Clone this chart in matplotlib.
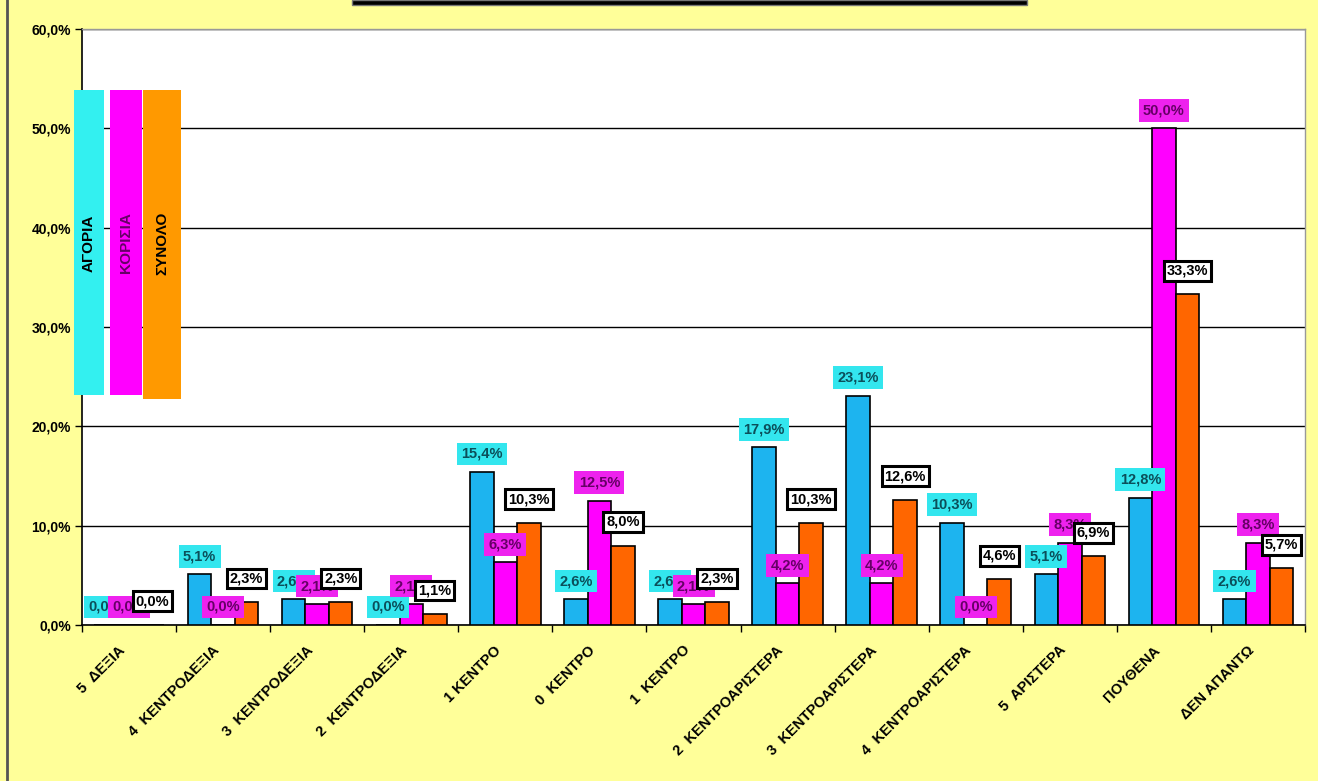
import numpy as np
import matplotlib
matplotlib.use("Agg")
import matplotlib.pyplot as plt
import matplotlib.transforms as mtransforms
from matplotlib.patches import Rectangle
from matplotlib.lines import Line2D

plt.rcParams['font.family'] = ['Liberation Sans', 'DejaVu Sans']

# data (percent)
categories = ["5  ΔΕΞΙΑ", "4  ΚΕΝΤΡΟΔΕΞΙΑ", "3  ΚΕΝΤΡΟΔΕΞΙΑ", "2  ΚΕΝΤΡΟΔΕΞΙΑ",
              "1 ΚΕΝΤΡΟ", "0  ΚΕΝΤΡΟ", "1  ΚΕΝΤΡΟ", "2  ΚΕΝΤΡΟΑΡΙΣΤΕΡΑ",
              "3  ΚΕΝΤΡΟΑΡΙΣΤΕΡΑ", "4  ΚΕΝΤΡΟΑΡΙΣΤΕΡΑ", "5  ΑΡΙΣΤΕΡΑ",
              "ΠΟΥΘΕΝΑ", "ΔΕΝ ΑΠΑΝΤΩ"]
boys = [0.0, 5.1, 2.6, 0.0, 15.4, 2.6, 2.6, 17.9, 23.1, 10.3, 5.1, 12.8, 2.6]
girls = [0.0, 0.0, 2.1, 2.1, 6.3, 12.5, 2.1, 4.2, 4.2, 0.0, 8.3, 50.0, 8.3]
total = [0.0, 2.3, 2.3, 1.1, 10.3, 8.0, 2.3, 10.3, 12.6, 4.6, 6.9, 33.3, 5.7]
series_names = ["ΑΓΟΡΙΑ", "ΚΟΡΙΣΙΑ", "ΣΥΝΟΛΟ"]
yticks = [0, 10, 20, 30, 40, 50, 60]

W, H = 1318, 781
BG = '#FFFF99'
fig = plt.figure(figsize=(W / 100, H / 100), dpi=100, facecolor=BG)


def fx(x):
    return x / W


def fy(y):
    return 1 - y / H


ax = fig.add_axes([fx(82), fy(625), fx(1305) - fx(82), fy(29) - fy(625)])
ax.set_facecolor('white')

x = np.arange(len(categories))
w = 0.25
bar_cols = ['#1DB4EF', '#FF00FF', '#FF6600']
lab_bg = ['#33E6EE', '#EE22EE', 'white']
lab_fg = ['#0B4F5A', '#660066', 'black']
offs = [13, 13, 17]

for i, vals in enumerate([boys, girls, total]):
    xs = x + (i - 1) * w
    ax.bar(xs, vals, width=w, color=bar_cols[i], edgecolor='black', linewidth=1.2, zorder=3)
    for xi, v in zip(xs, vals):
        txt = f"{v:.1f}".replace('.', ',') + '%'
        if i == 2:
            bb = dict(boxstyle='square,pad=0.2', fc='white', ec='black', lw=2.2)
        else:
            bb = dict(boxstyle='square,pad=0.3', fc=lab_bg[i], ec='none')
        ax.annotate(txt, (xi, v), xytext=(0, offs[i]), textcoords='offset points',
                    ha='center', va='center', fontsize=10.5, fontweight='bold',
                    color=lab_fg[i], bbox=bb, zorder=5 + i)

ax.set_xlim(-0.5, len(categories) - 0.5)
ax.set_ylim(0, 60)
ax.set_yticks(yticks)
ax.set_yticklabels([f"{t:.1f}".replace('.', ',') + '%' for t in yticks],
                   fontsize=10, fontweight='bold')
ax.yaxis.grid(True, color='black', linewidth=1)
ax.set_axisbelow(True)
ax.tick_params(axis='y', length=5, width=1, pad=3)

ax.set_xticks(x)
ax.set_xticklabels(categories, rotation=45, ha='right', va='top',
                   rotation_mode='anchor', fontsize=10.5, fontweight='bold')
ax.set_xticks(np.arange(len(categories) + 1) - 0.5, minor=True)
ax.tick_params(axis='x', which='major', length=0, pad=13)
ax.tick_params(axis='x', which='minor', length=5, width=1)
shift = mtransforms.ScaledTranslation(-8 / 72, 0, fig.dpi_scale_trans)
for lbl in ax.get_xticklabels():
    lbl.set_transform(lbl.get_transform() + shift)

for s in ['left', 'bottom']:
    ax.spines[s].set_color('black')
    ax.spines[s].set_linewidth(1.2)
for s in ['top', 'right']:
    ax.spines[s].set_color('#999999')
    ax.spines[s].set_linewidth(1)

# legend blocks (vertical)
leg_rects = [(74, 90, 104, 395), (110, 90, 142, 395), (143, 90, 181, 399)]
leg_cols = ['#33F0F0', '#FF00FF', '#FF9900']
leg_txt = ['black', '#660066', 'black']
for (x0, y0, x1, y1), c, name, tc in zip(leg_rects, leg_cols, series_names, leg_txt):
    fig.add_artist(Rectangle((fx(x0), fy(y1)), fx(x1 - x0), fy(y0) - fy(y1),
                             transform=fig.transFigure, fc=c, ec='none', zorder=10))
    fig.text(fx((x0 + x1) / 2), fy(243), name, rotation=90, ha='center', va='center',
             fontsize=11, fontweight='bold', color=tc, zorder=11)

# title box remnant at top and left border
fig.add_artist(Rectangle((fx(352), fy(5)), fx(675), fy(0) - fy(5),
                         transform=fig.transFigure, fc='black', ec='#777777', lw=1))
fig.add_artist(Line2D([fx(7), fx(7)], [0, 1], transform=fig.transFigure,
                      color='#555555', lw=2))

fig.savefig('out.png', dpi=100, facecolor=BG)
